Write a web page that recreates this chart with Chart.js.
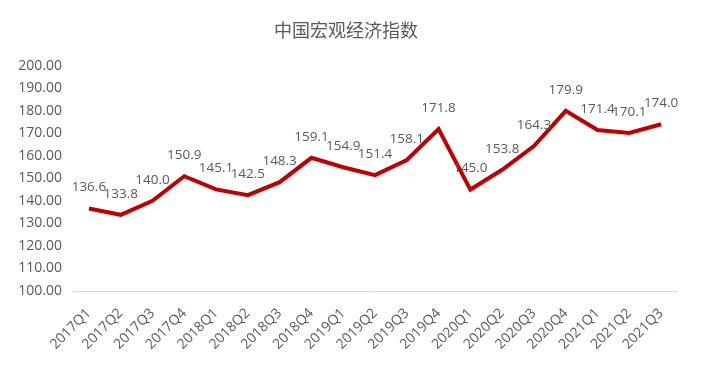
<!DOCTYPE html>
<html>
<head>
<meta charset="utf-8">
<script src="https://cdn.jsdelivr.net/npm/chart.js@4"></script>
<style>
html,body{margin:0;padding:0;background:#fff;}
#wrap{width:706px;height:383px;position:relative;}
</style>
</head>
<body>
<div id="wrap"><canvas id="c"></canvas></div>
<script>
const categories = ["2017Q1","2017Q2","2017Q3","2017Q4","2018Q1","2018Q2","2018Q3","2018Q4","2019Q1","2019Q2","2019Q3","2019Q4","2020Q1","2020Q2","2020Q3","2020Q4","2021Q1","2021Q2","2021Q3"];
const indexValues = [136.6,133.8,140.0,150.9,145.1,142.5,148.3,159.1,154.9,151.4,158.1,171.8,145.0,153.8,164.3,179.9,171.4,170.1,174.0];
const yTicks = [100,110,120,130,140,150,160,170,180,190,200];
const titleText = "中国宏观经济指数";

const labelPlugin = {
  id: 'pointLabels',
  afterDatasetsDraw(chart) {
    const ctx = chart.ctx;
    const meta = chart.getDatasetMeta(0);
    ctx.save();
    ctx.font = '13.5px "Open Sans", sans-serif';
    ctx.fillStyle = '#595959';
    ctx.textAlign = 'center';
    ctx.textBaseline = 'middle';
    meta.data.forEach((pt, i) => {
      ctx.fillText(indexValues[i].toFixed(1), pt.x, pt.y - 21);
    });
    ctx.restore();
  }
};

new Chart(document.getElementById('c'), {
  type: 'line',
  data: {
    labels: categories,
    datasets: [{
      data: indexValues,
      borderColor: '#C00000',
      borderWidth: 4,
      pointRadius: 0,
      tension: 0,
      fill: false
    }]
  },
  options: {
    responsive: true,
    maintainAspectRatio: false,
    animation: false,
    layout: { padding: { left: 15, right: 29, top: 0, bottom: 0 } },
    plugins: {
      legend: { display: false },
      tooltip: { enabled: false },
      title: {
        display: true,
        text: titleText,
        color: '#595959',
        font: { family: '"Noto Sans CJK SC", sans-serif', size: 18, weight: 'normal' },
        padding: { top: 19, bottom: 25 }
      }
    },
    scales: {
      x: {
        offset: true,
        grid: { display: false, drawTicks: false },
        border: { display: true, color: '#d9d9d9', width: 1 },
        ticks: {
          color: '#595959',
          font: { family: '"Open Sans", sans-serif', size: 14 },
          minRotation: 45, maxRotation: 45,
          autoSkip: false,
          padding: 14
        },
        afterFit(s) { s.height = 92; }
      },
      y: {
        min: 100, max: 200,
        afterBuildTicks(s) { s.ticks = yTicks.map(v => ({ value: v })); },
        grid: { display: false, drawTicks: false },
        border: { display: false },
        ticks: {
          color: '#595959',
          font: { family: '"Open Sans", sans-serif', size: 14 },
          padding: 11,
          callback: v => Number(v).toFixed(2)
        },
        afterFit(s) { s.width = 58; }
      }
    }
  },
  plugins: [labelPlugin]
});
</script>
</body>
</html>
